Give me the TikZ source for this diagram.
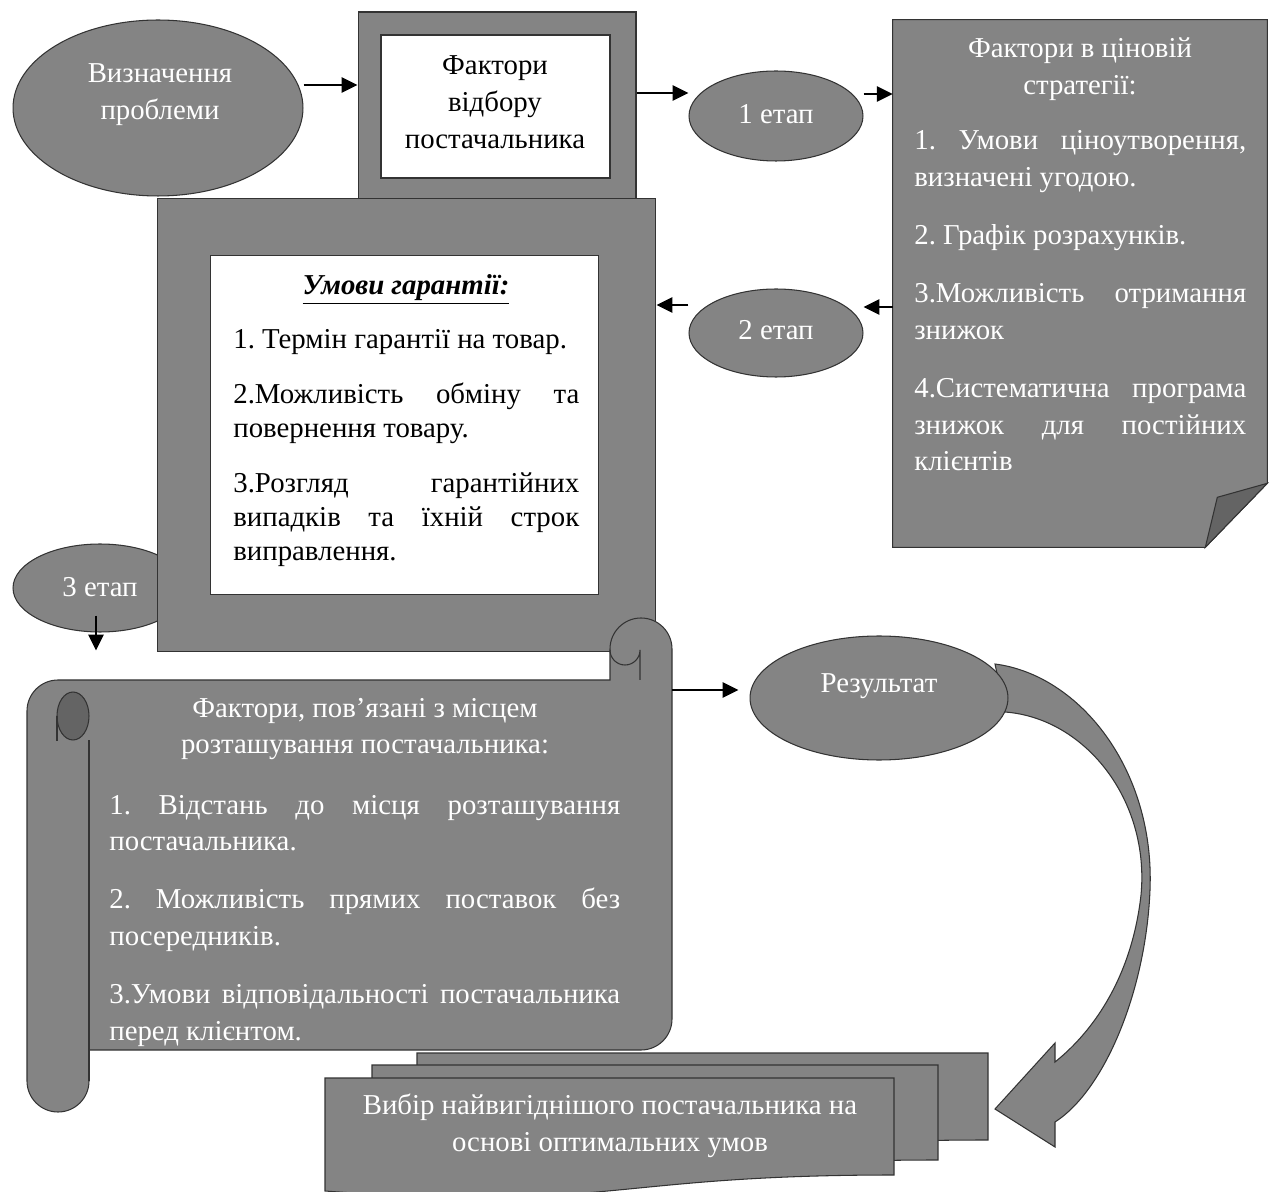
\documentclass[tikz,border=0pt]{standalone}
\usepackage{fontspec}
\setmainfont{Liberation Serif}
\newfontfamily\diagserif{Liberation Serif}
\usepackage{tikz}
\usetikzlibrary{calc,arrows.meta,shapes.geometric}
\definecolor{boxgray}{RGB}{132,132,132}
\definecolor{curlgray}{RGB}{100,100,100}
\hyphenpenalty=10000
\exhyphenpenalty=10000
\frenchspacing
\tikzset{
	grayfill/.style={draw=black!80, line width=0.6pt, fill=boxgray},
	oval/.style={grayfill, ellipse, inner sep=0pt},
	whitebox/.style={draw=black!80, line width=0.6pt, fill=white, inner sep=0pt},
	flowarrow/.style={line width=1.5pt, -{Triangle[length=9pt, width=8.5pt]}},
	whitetxt/.style={text=white, font=\diagserif\fontsize{16.4}{21}\selectfont, inner sep=0pt},
	blacktxt/.style={text=black, font=\diagserif\fontsize{16.4}{19.3}\selectfont, inner sep=0pt},
	bodytxt/.style={align=justify, anchor=base west, execute at begin node={\setlength{\parskip}{11.9pt}}},
}

\begin{document}
\begin{tikzpicture}[x=0.02cm, y=-0.02cm]
		%%%%% START %%%%%
		\useasboundingbox (0,0) rectangle (1275,1192);
		
		\node[oval, minimum width=5.8cm, minimum height=3.52cm] (defn) at (158,108) {};
		\node[whitetxt, align=center] (defntxt) at (160,95) {Визначення\\проблеми};
		
		\node[grayfill, minimum width=5.56cm, minimum height=3.76cm, inner sep=0pt] (topbox) at (497,106) {};
		\node[whitebox, minimum width=4.58cm, minimum height=2.86cm] (topinner) at (495.5,106.5) {};
		\node[blacktxt, align=center, font=\diagserif\fontsize{16.4}{21.2}\selectfont] (toptxt) at (495,102) {Фактори\\відбору\\постачальника};
		
		\node[oval, minimum width=3.48cm, minimum height=1.8cm] (etap1) at (776,116) {};
		\node[whitetxt] (etap1txt) at (776,114) {1 етап};
		\node[oval, minimum width=3.48cm, minimum height=1.76cm] (etap2) at (776,333) {};
		\node[whitetxt] (etap2txt) at (776,330) {2 етап};
		
		% note with the folded corner
		\node[minimum width=7.48cm, minimum height=10.54cm, inner sep=0pt] (note) at (1080,283.5) {};
		\draw[grayfill] (note.north west) -- (note.north east) -- ($(note.south east)+(0,-64)$) -- ($(note.south east)+(-62,0)$) -- (note.south west) -- cycle;
		\draw[grayfill, fill=curlgray] ($(note.south east)+(-62,0)$) -- ($(note.south east)+(-50,-50)$) -- ($(note.south east)+(0,-64)$) -- cycle;
		\node[whitetxt, align=center] (notetitle) at (1080,69) {Фактори в ціновій\\стратегії:};
		\node[whitetxt, bodytxt, text width=6.64cm] (notebody) at (914,150) {1. Умови ціноутворення,\linebreak визначені угодою.\par 2. Графік розрахунків.\par 3.Можливість отримання\linebreak знижок\par 4.Систематична програма\linebreak знижок для постійних\linebreak клієнтів};
		
		\draw[flowarrow] ($(defn.east)+(0,-23)$) -- ($(topbox.west)+(0,-21)$);
		\draw[flowarrow] ($(topbox.east)+(0,-13)$) -- ($(etap1.west)+(0,-23)$);
		\draw[flowarrow] ($(etap1.east)+(0,-22)$) coordinate (e1out) -- (note.west |- e1out);
		\coordinate (e2in) at ($(etap2.east)+(0,-26)$);
		\draw[flowarrow] (note.west |- e2in) -- (e2in);
		
		% frame with the guarantee terms
		\node[oval, minimum width=3.48cm, minimum height=1.76cm] (etap3) at (100,588) {};
		\node[grayfill, minimum width=9.98cm, minimum height=9.08cm, inner sep=0pt] (frame) at (406.5,425) {};
		\node[whitebox, minimum width=7.78cm, minimum height=6.8cm] (frameinner) at (404.5,425) {};
		\node[blacktxt, font=\diagserif\fontsize{16.4}{19.3}\selectfont\bfseries\itshape, anchor=base] (frametitle) at (406,295) {\underline{Умови гарантії:}};
		\node[blacktxt, bodytxt, text width=6.92cm] (framebody) at (233,349) {1. Термін гарантії на товар.\par 2.Можливість обміну та\linebreak повернення товару.\par 3.Розгляд гарантійних\linebreak випадків та їхній строк\linebreak виправлення.};
		\node[whitetxt] (etap3txt) at (100,587) {3 етап};
		
		\draw[flowarrow] ($(etap2.west)+(0,-28)$) coordinate (e2out) -- (frame.east |- e2out);
		\draw[flowarrow] ($(etap3.south)+(-4,-17)$) -- ($(etap3.south)+(-4,18)$);
		
		% scroll
		\node[minimum width=12.9cm, minimum height=9.88cm, inner sep=0pt] (scroll) at (349.5,865) {};
		\draw[grayfill] (27,711) arc[start angle=180, end angle=270, radius=31] -- (610,680) -- (610,649)
			arc[start angle=180, end angle=360, radius=31] -- (672,1019)
			arc[start angle=0, end angle=90, radius=31] -- (89,1050) -- (89,1081)
			arc[start angle=0, end angle=180, radius=31] -- cycle;
		\draw[grayfill, fill=curlgray] (73,716) ellipse[x radius=16, y radius=24];
		\draw[line width=0.6pt, draw=black!80] (57,716) -- (57,741);
		\draw[line width=0.6pt, draw=black!80] (89,740) -- (89,1081);
		\draw[line width=0.6pt, draw=black!80] (640,680) -- (640,650) arc[start angle=0, end angle=180, radius=15];
		\node[whitetxt, align=center] (scrolltitle) at (365,729) {Фактори, пов’язані з місцем\\розташування постачальника:};
		\node[whitetxt, bodytxt, text width=10.22cm] (scrollbody) at (109,814) {1. Відстань до місця розташування\linebreak постачальника.\par 2. Можливість прямих поставок без\linebreak посередників.\par 3.Умови відповідальності постачальника\linebreak перед клієнтом.};
		
		% result and the curved arrow
		\draw[grayfill] (995,664) .. controls (1080,675) and (1155,770) .. (1150,890) .. controls (1146,990) and (1105,1090) .. (1055,1122) -- (1055,1147) -- (995,1109) -- (1055,1043) -- (1055,1062) .. controls (1095,1030) and (1132,975) .. (1141,895) .. controls (1150,800) and (1085,718) .. (1005,712) -- cycle;
		\node[oval, minimum width=5.16cm, minimum height=2.48cm] (result) at (879,698) {};
		\node[whitetxt] (resulttxt) at (879,686) {Результат};
		\draw[flowarrow] ($(scroll.east)+(0,-175)$) coordinate (scrout) -- ($(result.west |- scrout)+(-11,0)$);
		
		% stacked documents
		\draw[grayfill] (417,1053) -- (988,1053) -- (988,1140) .. controls (702,1140) and (702,1173) .. (417,1154) -- cycle;
		\draw[grayfill] (372,1065) -- (938,1065) -- (938,1160) .. controls (655,1160) and (655,1196) .. (372,1175) -- cycle;
		\draw[grayfill] (325,1078) -- (894,1078) -- (894,1175) .. controls (609,1175) and (609,1212) .. (325,1191) -- cycle;
		\node[whitetxt, align=center] (choicetxt) at (610,1126) {Вибір найвигіднішого постачальника на\\основі оптимальних умов};
		
		%%%%% END %%%%%
\end{tikzpicture}
\end{document}
